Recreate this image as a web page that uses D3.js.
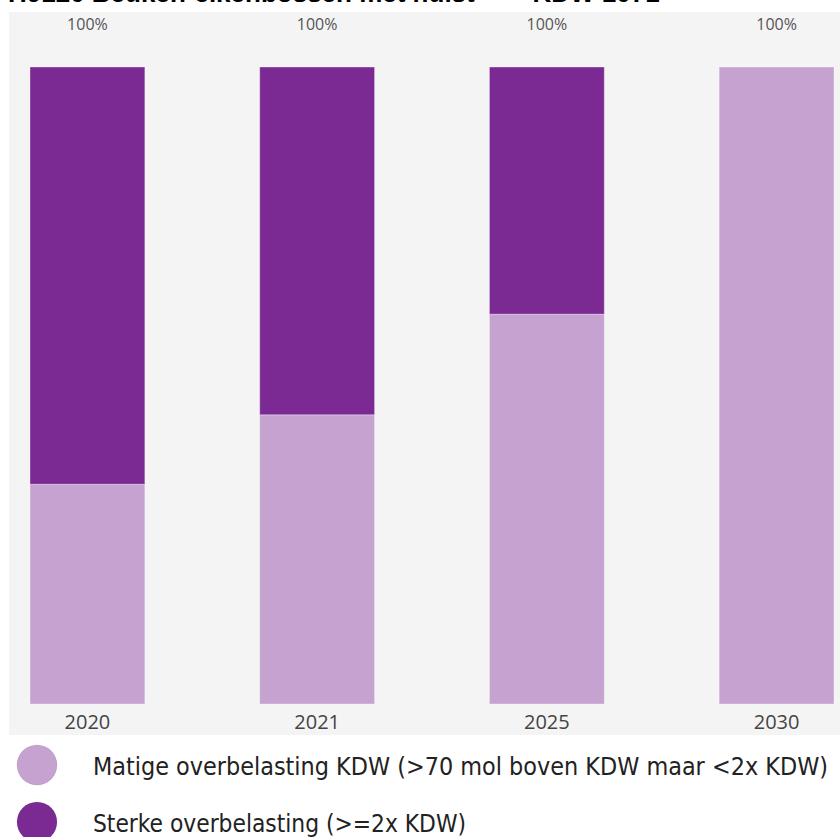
<!DOCTYPE html>
<html><head><meta charset="utf-8">
<script src="https://cdn.jsdelivr.net/npm/d3@7"></script>
<style>
html,body{margin:0;padding:0;background:#fff;}
svg{display:block;}
</style></head>
<body>
<svg id="chart" width="840" height="837"></svg>
<script>
const title = "H9120 Beuken-eikenbossen met hulst   \u2013   KDW 1071";
const categories = ["2020", "2021", "2025", "2030"];
const matige = [34.5, 45.4, 61.2, 100];
const sterke = [65.5, 54.6, 38.8, 0];
const seriesNames = ["Matige overbelasting KDW (>70 mol boven KDW maar <2x KDW)", "Sterke overbelasting (>=2x KDW)"];
const colors = ["#c5a2d0", "#7b2993"];

const svg = d3.select("#chart");
const labelFont = "'Open Sans', 'Noto Sans', sans-serif";
const legendFont = "'Liberation Sans Narrow', 'DejaVu Sans Condensed', 'Open Sans', sans-serif";

// title (partly cut at top, as in the reference)
svg.append("text").attr("x", 8).attr("y", 2)
  .attr("font-family", "'Liberation Sans', Arial, sans-serif").attr("font-weight", "bold")
  .attr("font-size", 26).attr("fill", "#000").style("white-space", "pre")
  .text(title);

// plot background
svg.append("rect").attr("x", 9).attr("y", 12).attr("width", 831).attr("height", 723).attr("fill", "#f4f4f4");

const x = d3.scaleBand().domain(categories).range([30, 834]).paddingInner(0.5).paddingOuter(0);
const y = d3.scaleLinear().domain([0, 100]).range([704, 67]);

const rows = categories.map((c, i) => ({cat: c, matige: matige[i], sterke: sterke[i]}));
const stack = d3.stack().keys(["matige", "sterke"])(rows);

svg.append("g").selectAll("g").data(stack).join("g")
  .attr("fill", (d, i) => colors[i])
  .selectAll("rect").data(d => d.filter(p => p[1] - p[0] > 0)).join("rect")
  .attr("x", d => x(d.data.cat))
  .attr("width", x.bandwidth())
  .attr("y", d => y(d[1]))
  .attr("height", d => y(d[0]) - y(d[1]))
  .attr("stroke", "rgba(255,255,255,0.35)").attr("stroke-width", 1);

// totals
svg.append("g").selectAll("text").data(rows).join("text")
  .attr("x", d => x(d.cat) + x.bandwidth() / 2)
  .attr("y", 30)
  .attr("text-anchor", "middle")
  .attr("font-family", labelFont).attr("font-size", 16).attr("fill", "#555")
  .text(d => d3.format(".0f")(d.matige + d.sterke) + "%");

// x axis labels
const xAxis = d3.axisBottom(x).tickSize(0).tickPadding(0);
const gx = svg.append("g").attr("transform", "translate(0,715)").call(xAxis);
gx.select(".domain").remove();
gx.selectAll("text").attr("font-family", labelFont).attr("font-size", 20).attr("fill", "#444").attr("dy", "0.71em");

// legend
const leg = svg.append("g").selectAll("g").data(seriesNames).join("g")
  .attr("transform", (d, i) => `translate(0,${765 + i * 57})`);
leg.append("circle").attr("cx", 37).attr("cy", 0).attr("r", 20)
  .attr("fill", (d, i) => colors[i]).attr("stroke", "rgba(0,0,0,0.08)");
leg.append("text").attr("x", 93).attr("y", 10)
  .attr("font-family", legendFont).attr("font-size", 25).attr("fill", "#222")
  .attr("textLength", (d, i) => i === 0 ? 735 : 373).attr("lengthAdjust", "spacingAndGlyphs")
  .text(d => d);
</script>
</body></html>
